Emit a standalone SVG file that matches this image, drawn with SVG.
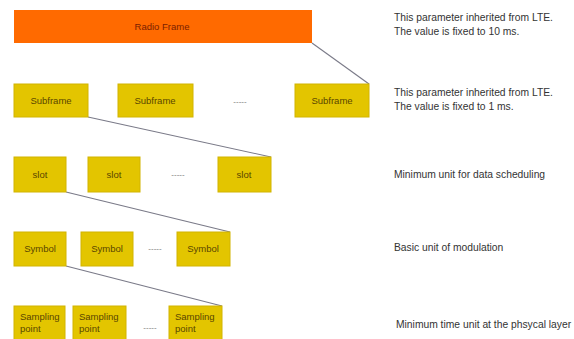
<svg xmlns="http://www.w3.org/2000/svg" width="574" height="339" viewBox="0 0 574 339">
<style>
.box{fill:#E3C500;stroke:#D2B400;stroke-width:1}
.lbl{font-family:"Liberation Sans",Arial,sans-serif;font-size:9.5px;fill:#5A4600;text-anchor:middle}
.lbl2{font-family:"Liberation Sans",Arial,sans-serif;font-size:9.5px;fill:#5A4600}
.note{font-family:"Liberation Sans",Arial,sans-serif;font-size:10.3px;fill:#333}
.dots{font-family:"Liberation Sans",Arial,sans-serif;font-size:8px;fill:#777;text-anchor:middle}
.conn{stroke:#7A7A88;stroke-width:1.1;fill:none}
</style>
<rect width="574" height="339" fill="#fff"/>
<g id="connectors">
<line class="conn" x1="312" y1="43" x2="369" y2="84"/>
<line class="conn" x1="88" y1="117" x2="271" y2="157"/>
<line class="conn" x1="66" y1="192" x2="230" y2="232"/>
<line class="conn" x1="66" y1="266" x2="222" y2="306"/>
</g>
<g id="radio-frame">
<rect x="14" y="10" width="298" height="33" fill="#FF6A00"/>
<text x="162" y="30" class="lbl" style="fill:#7A1E00">Radio Frame</text>
</g>
<g id="subframe-1"><rect class="box" x="14" y="84" width="74" height="33"/><text class="lbl" x="51" y="104">Subframe</text></g>
<g id="subframe-2"><rect class="box" x="118" y="84" width="75" height="33"/><text class="lbl" x="155" y="104">Subframe</text></g>
<text class="dots" x="240" y="104">-----</text>
<g id="subframe-3"><rect class="box" x="295" y="84" width="74" height="33"/><text class="lbl" x="332" y="104">Subframe</text></g>
<g id="slot-1"><rect class="box" x="14" y="157" width="52" height="35"/><text class="lbl" x="40" y="178">slot</text></g>
<g id="slot-2"><rect class="box" x="88" y="157" width="52" height="35"/><text class="lbl" x="114" y="178">slot</text></g>
<text class="dots" x="178" y="177">-----</text>
<g id="slot-3"><rect class="box" x="218" y="157" width="53" height="35"/><text class="lbl" x="244" y="178">slot</text></g>
<g id="symbol-1"><rect class="box" x="14" y="232" width="52" height="34"/><text class="lbl" x="40" y="252">Symbol</text></g>
<g id="symbol-2"><rect class="box" x="81" y="232" width="52" height="34"/><text class="lbl" x="107" y="252">Symbol</text></g>
<text class="dots" x="155" y="251">-----</text>
<g id="symbol-3"><rect class="box" x="177" y="232" width="53" height="34"/><text class="lbl" x="203" y="252">Symbol</text></g>
<g id="sampling-1"><rect class="box" x="14" y="306" width="51" height="36"/><text class="lbl2" x="20" y="320">Sampling</text><text class="lbl2" x="20" y="332">point</text></g>
<g id="sampling-2"><rect class="box" x="73" y="306" width="53" height="36"/><text class="lbl2" x="79" y="320">Sampling</text><text class="lbl2" x="79" y="332">point</text></g>
<text class="dots" x="150" y="330">-----</text>
<g id="sampling-3"><rect class="box" x="169" y="306" width="53" height="36"/><text class="lbl2" x="175" y="320">Sampling</text><text class="lbl2" x="175" y="332">point</text></g>
<g id="notes">
<text class="note" x="394" y="21">This parameter inherited from LTE.</text>
<text class="note" x="394" y="35">The value is fixed to 10 ms.</text>
<text class="note" x="394" y="96">This parameter inherited from LTE.</text>
<text class="note" x="394" y="110">The value is fixed to 1 ms.</text>
<text class="note" x="394" y="178">Minimum unit for data scheduling</text>
<text class="note" x="394" y="251">Basic unit of modulation</text>
<text class="note" x="396" y="328">Minimum time unit at the phsycal layer</text>
</g>
</svg>
